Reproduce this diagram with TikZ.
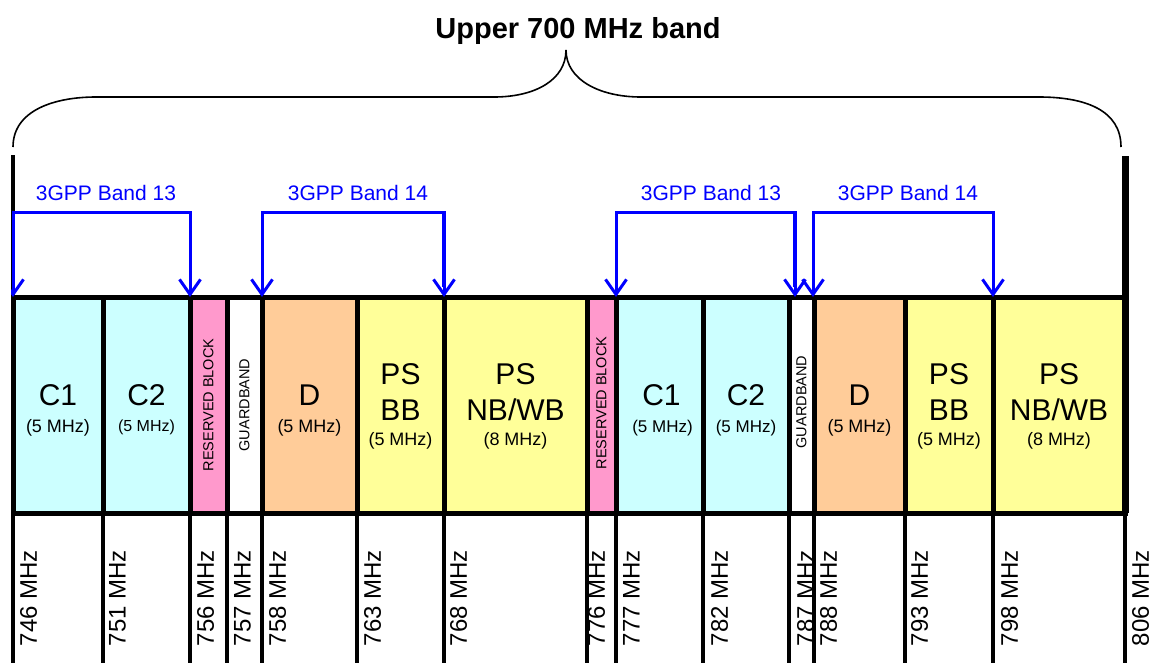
\documentclass[tikz,border=0pt]{standalone}
\usepackage{fontspec}
\setmainfont{Liberation Sans}
\usetikzlibrary{arrows.meta}
\definecolor{ccyan}{HTML}{CCFFFF}
\definecolor{cpink}{HTML}{FF99CC}
\definecolor{corange}{HTML}{FFCC99}
\definecolor{cyellow}{HTML}{FFFF99}
\newcommand\mkblock[4]{\node[block, fill=#4, minimum width={(#3-#2)*1pt}] (#1) at ({(#2+#3)/2},405) {};}
\tikzset{
  block/.style={rectangle, draw=black, line width=5pt, minimum height=216pt, inner sep=0pt, outer sep=0pt},
  big/.style={font=\fontsize{30}{30}\selectfont, inner sep=0pt, anchor=base},
  small/.style={font=\fontsize{18}{18}\selectfont, inner sep=0pt, anchor=base},
  rot/.style={rotate=90, font=\fontsize{14.5}{14.5}\selectfont, inner sep=0pt},
  freq/.style={rotate=90, anchor=north east, font=\fontsize{24}{24}\selectfont, inner sep=0pt},
  tickline/.style={line width=3.5pt},
  bline/.style={draw=blue, line width=3pt, line join=miter},
  barrow/.style={bline, {Straight Barb[length=15pt,width=21pt]}-{Straight Barb[length=15pt,width=21pt]}},
  bandlbl/.style={text=blue, font=\fontsize{21}{21}\selectfont, inner sep=0pt, anchor=base},
}
\begin{document}
\begin{tikzpicture}[x=1pt,y=-1pt]
\useasboundingbox (0,0) rectangle (1152,662);
% title and brace
\node[font=\bfseries\fontsize{29}{29}\selectfont, inner sep=0pt, anchor=base] (title) at (578,38) {Upper 700 MHz band};
\draw[line width=1.6pt] (13,147) .. controls (13,110) and (55,97) .. (96,97) -- (494,97)
  .. controls (535,97) and (566,80) .. (566,50) .. controls (566,80) and (600,97) .. (641,97)
  -- (1039,97) .. controls (1085,97) and (1121,110) .. (1121,147);
% blocks
\mkblock{c1a}{13}{103}{ccyan}
\mkblock{c2a}{103}{190}{ccyan}
\mkblock{resa}{190}{227}{cpink}
\mkblock{guarda}{227}{262}{white}
\mkblock{da}{262}{357}{corange}
\mkblock{psbba}{357}{444}{cyellow}
\mkblock{psnba}{444}{587}{cyellow}
\mkblock{resb}{587}{616}{cpink}
\mkblock{c1b}{616}{703}{ccyan}
\mkblock{c2b}{703}{789}{ccyan}
\mkblock{guardb}{789}{814}{white}
\mkblock{db}{814}{905}{corange}
\mkblock{psbbb}{905}{993}{cyellow}
\mkblock{psnbb}{993}{1125}{cyellow}
% outer verticals
\coordinate (ltop) at (13,155);
\coordinate (rtop) at (1125,156);
\draw[line width=4.5pt] (ltop) -- (c1a.north west);
\draw[line width=7pt] (rtop) -- (psnbb.south east);
% ticks
\coordinate (bot) at (0,664);
\foreach \n in {c1a,c2a,resa,guarda,da,psbba,psnba,resb,c1b,c2b,guardb,db,psbbb,psnbb}
  \draw[tickline] (\n.south west) -- (\n.south west |- bot);
\draw[tickline] (psnbb.south east) -- (psnbb.south east |- bot);
% frequency labels
\foreach \x/\f in {20/746,109/751,197/756,234/757,269/758,364/763,450/768,588/776,623/777,711/782,797/787,820/788,911/793,1001/798,1132/806}
  \node[freq] (f\f) at (\x,550) {\f\ MHz};
% block texts
\node[big] (c1at) at (c1a.center) {C1};
\node[small, yshift=-27pt] (c1as) at (c1a.center) {(5 MHz)};
\node[big] (c2at) at (c2a.center) {C2};
\node[small, yshift=-26pt, font=\fontsize{16}{16}\selectfont] (c2as) at (c2a.center) {(5 MHz)};
\node[rot] (resat) at (resa.center) {RESERVED BLOCK};
\node[rot] (guardat) at (guarda.center) {GUARDBAND};
\node[big] (dat) at (da.center) {D};
\node[small, yshift=-27pt] (das) at (da.center) {(5 MHz)};
\node[big, yshift=21pt] (psbbat) at (psbba.center) {PS};
\node[big, yshift=-15pt] (psbbat2) at (psbba.center) {BB};
\node[small, yshift=-40.5pt] (psbbas) at (psbba.center) {(5 MHz)};
\node[big, yshift=21pt] (psnbat) at (psnba.center) {PS};
\node[big, yshift=-15pt] (psnbat2) at (psnba.center) {NB/WB};
\node[small, yshift=-40.5pt] (psnbas) at (psnba.center) {(8 MHz)};
\node[rot, xshift=2pt] (resbt) at (resb.center) {RESERVED BLOCK};
\node[big, xshift=2pt] (c1bt) at (c1b.center) {C1};
\node[small, yshift=-27pt, xshift=3pt, font=\fontsize{17}{17}\selectfont] (c1bs) at (c1b.center) {(5 MHz)};
\node[big] (c2bt) at (c2b.center) {C2};
\node[small, yshift=-27pt, font=\fontsize{17}{17}\selectfont] (c2bs) at (c2b.center) {(5 MHz)};
\node[rot, xshift=3pt] (guardbt) at (guardb.center) {GUARDBAND};
\node[big] (dbt) at (db.center) {D};
\node[small, yshift=-27pt] (dbs) at (db.center) {(5 MHz)};
\node[big, yshift=21pt] (psbbbt) at (psbbb.center) {PS};
\node[big, yshift=-15pt] (psbbbt2) at (psbbb.center) {BB};
\node[small, yshift=-40.5pt] (psbbbs) at (psbbb.center) {(5 MHz)};
\node[big, yshift=21pt] (psnbbt) at (psnbb.center) {PS};
\node[big, yshift=-15pt] (psnbbt2) at (psnbb.center) {NB/WB};
\node[small, yshift=-40.5pt] (psnbbs) at (psnbb.center) {(8 MHz)};
% 3GPP bands
\coordinate (b13aL) at (13,212);  \coordinate (b13aR) at (190,212);
\coordinate (b14aL) at (262,212); \coordinate (b14aR) at (444,212);
\coordinate (b13bL) at (616,212); \coordinate (b13bR) at (795,212);
\coordinate (b14bL) at (813,212); \coordinate (b14bR) at (993,212);
\coordinate (b13bRe) at (795,297); \coordinate (b14bLe) at (813,297);
\begin{scope}
  \clip (11,0) rectangle (1152,662);
  \draw[barrow] (c1a.north west) -- (b13aL) -- (b13aR) -- (c2a.north east);
\end{scope}
\draw[barrow] (da.north west) -- (b14aL) -- (b14aR) -- (psbba.north east);
\draw[barrow] (c1b.north west) -- (b13bL) -- (b13bR) -- (b13bRe);
\draw[barrow] (b14bLe) -- (b14bL) -- (b14bR) -- (psbbb.north east);
\draw[draw=blue, line width=4.5pt] (b14aR) -- ([yshift=10pt]psbba.north east);
\draw[draw=blue, line width=4.5pt] (b13bR) -- ([yshift=10pt]b13bRe);
\node[bandlbl] (l13a) at (106,200) {3GPP Band 13};
\node[bandlbl] (l14a) at (358,200) {3GPP Band 14};
\node[bandlbl] (l13b) at (711,200) {3GPP Band 13};
\node[bandlbl] (l14b) at (908,200) {3GPP Band 14};
\end{tikzpicture}
\end{document}
